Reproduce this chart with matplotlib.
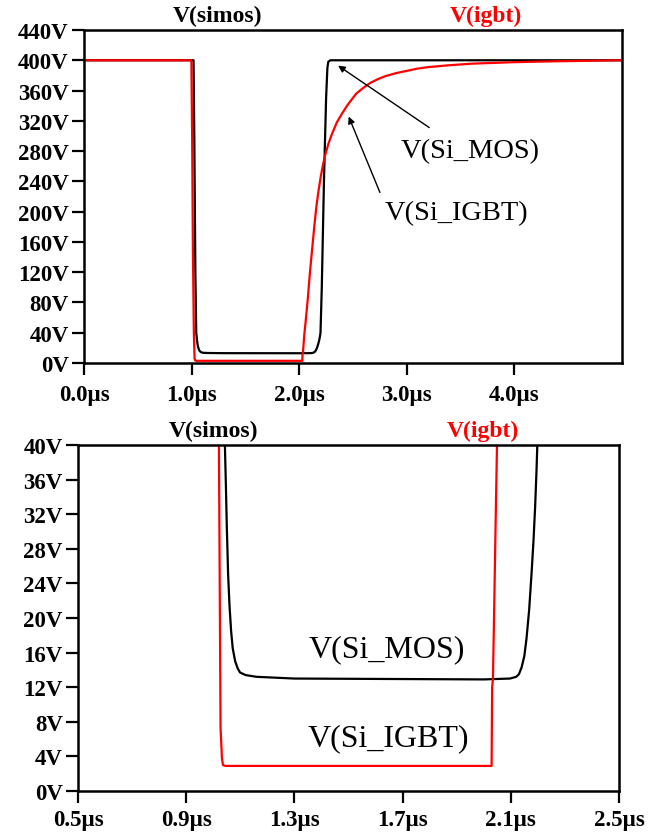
import matplotlib
matplotlib.use("Agg")
import matplotlib.pyplot as plt
from matplotlib.ticker import FuncFormatter

# waveform samples (time in us, voltage in V)
t_simos = [0.0, 1.018, 1.025, 1.035, 1.043, 1.047, 1.050, 1.055, 1.060, 1.066,
           1.072, 1.081, 1.090, 1.099, 1.12, 1.16, 1.3, 2.0, 2.097, 2.12,
           2.13, 2.14, 2.15, 2.158, 2.168, 2.177, 2.184, 2.190, 2.195, 2.198,
           2.21, 2.23, 2.25, 2.262, 2.27, 2.29, 5.0]
v_simos = [400, 400, 300, 120, 40, 35, 30.7, 25, 21.5, 18.5,
           16.5, 15.0, 14.2, 13.7, 13.4, 13.2, 13.0, 12.9, 13.0, 13.2,
           13.5, 14.3, 15.6, 17.6, 21, 25.3, 29, 32.9, 37, 40,
           100, 240, 350, 390, 398, 400, 400]

t_igbt = [0.0, 0.998, 1.005, 1.012, 1.021, 1.027, 1.029, 1.032, 1.036, 1.045,
          1.5, 2.029, 2.031, 2.034, 2.038, 2.045, 2.049, 2.06, 2.08, 2.10,
          2.12, 2.14, 2.16, 2.18, 2.20, 2.22, 2.24, 2.27, 2.30, 2.35,
          2.40, 2.45, 2.53, 2.60, 2.66, 2.73, 2.8, 2.9, 3.0, 3.1,
          3.2, 3.4, 3.6, 4.0, 4.4, 5.0]
v_igbt = [400, 400, 300, 150, 40, 7.2, 6.0, 3.8, 3.0, 2.9,
          2.9, 2.9, 12, 13, 20, 33, 40, 55, 85, 120,
          150, 180, 207, 228, 246, 261, 274, 289, 301, 318,
          330, 341, 356, 364, 370, 375, 379, 383, 386, 389,
          391, 393.5, 395.5, 397.5, 398.7, 400]

top_xticks = [0.0, 1.0, 2.0, 3.0, 4.0]
top_yticks = list(range(0, 441, 40))
bot_xticks = [0.5, 0.9, 1.3, 1.7, 2.1, 2.5]
bot_yticks = list(range(0, 41, 4))

SERIF = "Liberation Serif"
W, H = 670, 837


def style(ax, xticks, yticks, xlim, ylim, xpad):
  ax.set_xlim(xlim)
  ax.set_ylim(ylim)
  ax.set_xticks(xticks)
  ax.set_yticks(yticks)
  ax.xaxis.set_major_formatter(FuncFormatter(lambda v, p: "%.1f\u00b5s" % v))
  ax.yaxis.set_major_formatter(FuncFormatter(lambda v, p: "%dV" % round(v)))
  for s in ax.spines.values():
    s.set_linewidth(1.8)
  ax.tick_params(direction="out", length=8.5, width=1.6, pad=2.5,
                 labelsize=16.5, colors="black")
  ax.tick_params(axis="x", pad=xpad)
  for lab in ax.get_xticklabels() + ax.get_yticklabels():
    lab.set_family(SERIF)
    lab.set_fontweight("bold")


def axes_px(fig, left, top, right, bottom):
  return fig.add_axes([left / W, 1 - bottom / H, (right - left) / W, (bottom - top) / H])


fig = plt.figure(figsize=(6.7, 8.37), dpi=100)

# top panel
ax1 = axes_px(fig, 84, 31, 622, 364)
ax1.plot(t_simos, v_simos, color="black", lw=1.6)
ax1.plot(t_igbt, v_igbt, color="#ff0000", lw=1.6)
style(ax1, top_xticks, top_yticks, (0, 5.0), (0, 440), 6.5)

ax1.annotate("", xy=(2.34, 395), xytext=(3.23, 309),
             arrowprops=dict(arrowstyle="-|>", color="black", lw=1.0, mutation_scale=10))
ax1.annotate("", xy=(2.45, 329), xytext=(2.76, 222),
             arrowprops=dict(arrowstyle="-|>", color="black", lw=1.0, mutation_scale=10))
ax1.text(3.59, 280, "V(Si_MOS)", family=SERIF, fontsize=20.5, ha="center", va="center")
ax1.text(3.46, 199, "V(Si_IGBT)", family=SERIF, fontsize=20.5, ha="center", va="center")

# bottom panel (zoom)
ax2 = axes_px(fig, 78, 446, 619, 792)
ax2.plot(t_simos, v_simos, color="black", lw=1.6)
ax2.plot(t_igbt, v_igbt, color="#ff0000", lw=1.6)
style(ax2, bot_xticks, bot_yticks, (0.5, 2.5), (0, 40), 4.5)
ax2.text(1.642, 16.4, "V(Si_MOS)", family=SERIF, fontsize=23, ha="center", va="center")
ax2.text(1.649, 6.2, "V(Si_IGBT)", family=SERIF, fontsize=23, ha="center", va="center")

# trace names
fig.text(217 / W, 1 - 16 / H, "V(simos)", family=SERIF, fontweight="bold",
         fontsize=17, ha="center", va="center", color="black")
fig.text(486 / W, 1 - 16 / H, "V(igbt)", family=SERIF, fontweight="bold",
         fontsize=17, ha="center", va="center", color="#ff0000")
fig.text(213 / W, 1 - 431 / H, "V(simos)", family=SERIF, fontweight="bold",
         fontsize=17, ha="center", va="center", color="black")
fig.text(483 / W, 1 - 431 / H, "V(igbt)", family=SERIF, fontweight="bold",
         fontsize=17, ha="center", va="center", color="#ff0000")

fig.savefig("out.png", dpi=100)
